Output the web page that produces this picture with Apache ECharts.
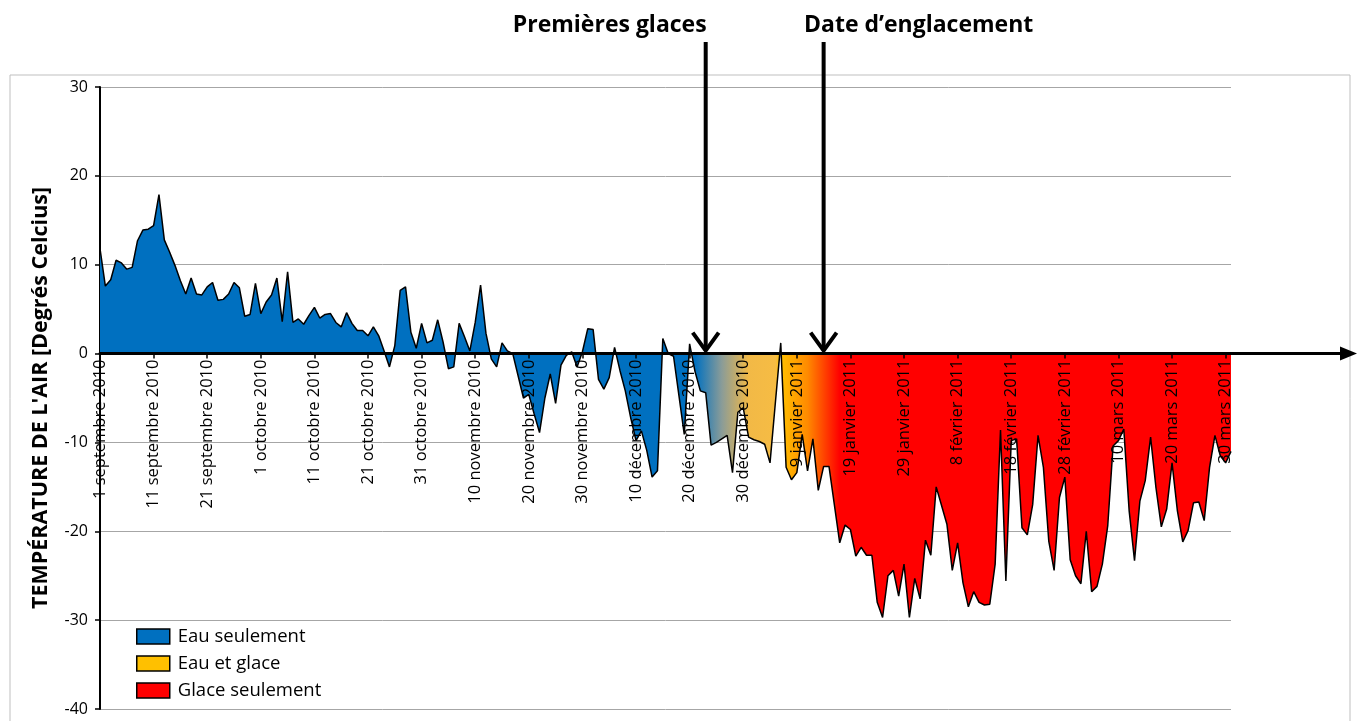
<!DOCTYPE html>
<html>
<head>
<meta charset="utf-8">
<script src="https://cdn.jsdelivr.net/npm/echarts@6/dist/echarts.min.js"></script>
<style>
    html, body { margin: 0; padding: 0; background: #fff; }
    #main { width: 1361px; height: 721px; }
</style>
</head>
<body>
<div id="main"></div>
<script>
// températures journalières de l'air, du 1 septembre 2010 au 31 mars 2011
let temperatures = [
    11.8, 7.6, 8.3, 10.5, 10.2, 9.5, 9.7, 12.7, 13.9, 14.0,
    14.4, 17.9, 12.8, 11.4, 9.9, 8.2, 6.7, 8.5, 6.7, 6.6,
    7.5, 8.0, 6.0, 6.1, 6.7, 8.0, 7.4, 4.2, 4.4, 7.9,
    4.5, 5.8, 6.6, 8.5, 3.6, 9.2, 3.5, 3.9, 3.3, 4.3,
    5.2, 4.0, 4.4, 4.5, 3.5, 3.0, 4.6, 3.4, 2.6, 2.6,
    2.0, 3.0, 2.0, 0.3, -1.5, 0.9, 7.1, 7.5, 2.4, 0.6,
    3.4, 1.2, 1.5, 3.8, 1.3, -1.7, -1.5, 3.4, 1.9, 0.3,
    3.5, 7.7, 2.3, -0.6, -1.5, 1.2, 0.3, 0.0, -2.5, -5.0,
    -4.6, -6.8, -8.9, -5.0, -2.3, -5.6, -1.3, -0.2, 0.2, -1.5,
    0.2, 2.8, 2.7, -2.9, -4.0, -2.7, 0.7, -1.9, -4.2, -7.2,
    -9.8, -8.7, -10.9, -13.9, -13.2, 1.7, 0.0, -0.3, -4.7, -9.1,
    1.1, -2.0, -4.2, -4.4, -10.3, -10.0, -9.6, -9.2, -13.4, -6.6,
    -6.1, -9.4, -9.7, -9.9, -10.2, -12.3, -5.5, 1.2, -12.8, -14.2,
    -13.4, -9.1, -13.2, -9.6, -15.4, -12.7, -12.7, -17.0, -21.3, -19.3,
    -19.8, -22.8, -21.8, -22.7, -22.7, -28.0, -29.7, -25.0, -24.4, -27.3,
    -23.7, -29.7, -25.3, -27.6, -21.0, -22.7, -15.0, -17.1, -19.2, -24.4,
    -21.3, -25.8, -28.5, -26.8, -28.0, -28.3, -28.2, -23.7, -8.6, -25.6,
    -9.8, -9.6, -19.6, -20.4, -17.0, -9.2, -12.8, -21.1, -24.4, -16.2,
    -13.9, -23.2, -25.0, -25.9, -20.0, -26.8, -26.2, -23.7, -19.4, -10.4,
    -9.8, -8.5, -17.7, -23.3, -16.6, -14.3, -9.4, -15.1, -19.5, -17.5,
    -12.3, -17.7, -21.2, -19.9, -16.8, -16.7, -18.8, -12.8, -9.2, -11.5,
    -12.3, -11.0
];

let moisNoms = ['janvier', 'février', 'mars', 'avril', 'mai', 'juin', 'juillet', 'août', 'septembre', 'octobre', 'novembre', 'décembre'];
let jours = temperatures.map(function (t, i) {
    let d = new Date(2010, 8, 1 + i);
    return d.getDate() + ' ' + moisNoms[d.getMonth()] + ' ' + d.getFullYear();
});

let yMin = -40;
let yMax = 30;
let yPas = 10;

let phaseNoms = ['Eau seulement', 'Eau et glace', 'Glace seulement'];
let phaseCouleurs = ['#0070C0', '#FFC000', '#FF0000'];

// jour (indice) des deux évènements annotés
let evenements = [
    { texte: 'Premières glaces', jour: 113, decalage: -96 },
    { texte: 'Date d’englacement', jour: 135, decalage: 95 }
];

// couleurs du remplissage selon le jour
let degrade = [
    [0, '#0070C0'], [111, '#0070C0'], [116, '#8A9C98'], [121, '#F2B946'],
    [126, '#F6BC44'], [127, '#FFC000'], [132, '#FF8A00'], [138, '#FF0000'], [211, '#FF0000']
];

let myChart = echarts.init(document.getElementById('main'));
let police = '"Open Sans", "Noto Sans", sans-serif';
let dernier = temperatures.length - 1;
let grille = { left: 100, right: 130, top: 87, bottom: 12 };
let hauteurGrille = 721 - grille.top - grille.bottom;
// l'axe des dates passe par 0
let decalageAxe = -hauteurGrille * (0 - yMin) / (yMax - yMin);

let option = {
    animation: false,
    textStyle: { fontFamily: police },
    grid: Object.assign({ containLabel: false, outerBoundsMode: 'none' }, grille),
    legend: {
        orient: 'vertical',
        left: 131,
        top: 622,
        itemWidth: 33,
        itemHeight: 15,
        itemGap: 8,
        textStyle: { fontSize: 18.5, color: '#000', fontFamily: police, padding: [0, 0, 0, 3] },
        data: phaseNoms.map(function (n, k) {
            return { name: n, icon: 'rect', itemStyle: { color: phaseCouleurs[k], borderColor: '#000', borderWidth: 1.5 } };
        })
    },
    xAxis: {
        type: 'category',
        data: jours,
        boundaryGap: false,
        position: 'bottom',
        offset: decalageAxe,
        z: 10,
        axisLine: { onZero: false, lineStyle: { color: '#000', width: 3 } },
        axisTick: { interval: 9, length: 5, lineStyle: { color: '#000', width: 1.5 } },
        axisLabel: { interval: 9, rotate: 90, margin: 6, fontSize: 16.5, color: '#000' },
        splitLine: { show: false }
    },
    yAxis: {
        type: 'value',
        min: yMin,
        max: yMax,
        interval: yPas,
        name: 'TEMPÉRATURE DE L\'AIR [Degrés Celcius]',
        nameLocation: 'middle',
        nameGap: 48,
        nameTextStyle: { fontSize: 21.5, fontWeight: 'bold', color: '#000' },
        axisLine: { show: true, lineStyle: { color: '#000', width: 2 } },
        axisTick: { show: true, length: 5, lineStyle: { color: '#000', width: 1.5 } },
        axisLabel: { fontSize: 16, color: '#000', margin: 12 },
        splitLine: { lineStyle: { color: '#A6A6A6', width: 1 } }
    },
    series: [
        {
            name: phaseNoms[0],
            type: 'line',
            data: temperatures,
            symbol: 'none',
            itemStyle: { color: phaseCouleurs[0] },
            lineStyle: { color: '#000', width: 1.5 },
            areaStyle: {
                opacity: 1,
                origin: 0,
                color: {
                    type: 'linear', x: 0, y: 0, x2: 1, y2: 0,
                    colorStops: degrade.map(function (s) {
                        return { offset: s[0] / dernier, color: s[1] };
                    })
                }
            }
        },
        { name: phaseNoms[1], type: 'line', data: [], itemStyle: { color: phaseCouleurs[1] } },
        { name: phaseNoms[2], type: 'line', data: [], itemStyle: { color: phaseCouleurs[2] } }
    ]
};
myChart.setOption(option);

// flèches et textes d'annotation
let y0 = myChart.convertToPixel({ yAxisIndex: 0 }, 0);
let xFin = myChart.convertToPixel({ xAxisIndex: 0 }, dernier);
let elements = [
    {
        type: 'rect', silent: true, z: -1,
        shape: { x: 10, y: 75, width: 1340, height: 660 },
        style: { fill: 'none', stroke: '#BFBFBF', lineWidth: 1 }
    },
    {
        type: 'line', z: 20,
        shape: { x1: xFin, y1: y0, x2: 1342, y2: y0 },
        style: { stroke: '#000', lineWidth: 3 }
    },
    {
        type: 'polygon', z: 20,
        shape: { points: [[1340, y0 - 7], [1357, y0], [1340, y0 + 7]] },
        style: { fill: '#000' }
    }
];
evenements.forEach(function (ev) {
    let xa = myChart.convertToPixel({ xAxisIndex: 0 }, ev.jour);
    elements.push({
        type: 'line', z: 20,
        shape: { x1: xa, y1: 42, x2: xa, y2: y0 - 3 },
        style: { stroke: '#000', lineWidth: 4 }
    });
    elements.push({
        type: 'polyline', z: 20,
        shape: { points: [[xa - 13, y0 - 21], [xa, y0 - 3], [xa + 13, y0 - 21]] },
        style: { stroke: '#000', lineWidth: 4, fill: 'none' }
    });
    elements.push({
        type: 'text', z: 20,
        x: xa + ev.decalage, y: 25,
        style: {
            text: ev.texte, fill: '#000', font: 'bold 23px ' + police,
            align: 'center', verticalAlign: 'middle'
        }
    });
});
myChart.setOption({ graphic: elements });
</script>
</body>
</html>
